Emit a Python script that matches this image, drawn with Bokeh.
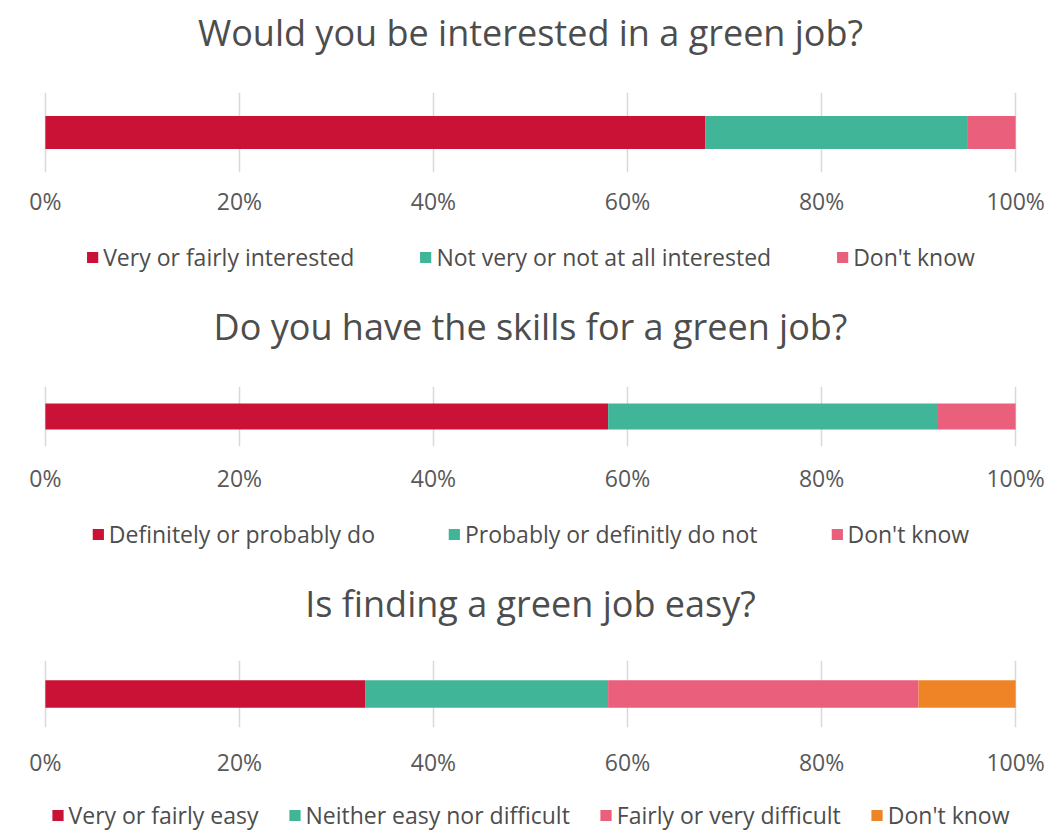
from bokeh.plotting import figure
from bokeh.models import (ColumnDataSource, Range1d, FixedTicker, Legend, LegendItem)
from bokeh.layouts import column
from bokeh.embed import file_html
from bokeh.resources import INLINE

# ---- data ----
titles = ["Would you be interested in a green job?",
          "Do you have the skills for a green job?",
          "Is finding a green job easy?"]

q1_labels = ["Very or fairly interested", "Not very or not at all interested", "Don't know"]
q1_values = [68, 27, 5]

q2_labels = ["Definitely or probably do", "Probably or definitly do not", "Don't know"]
q2_values = [58, 34, 8]

q3_labels = ["Very or fairly easy", "Neither easy nor difficult", "Fairly or very difficult", "Don't know"]
q3_values = [33, 25, 32, 10]

tick_values = [0, 20, 40, 60, 80, 100]
tick_labels = ["0%", "20%", "40%", "60%", "80%", "100%"]

palette = ["#C91236", "#41B598", "#EA5F7B", "#EF8427"]

FONT = "Open Sans"
W = 1045
XR = (-0.4, 100.4)
BL, BR = 41, 26        # frame borders (shared by all strips of the column)


def make_source(values):
    names = [f"s{i}" for i in range(len(values))]
    data = {"y": [0.5]}
    for n, v in zip(names, values):
        data[n] = [v]
    return names, ColumnDataSource(data)


def blank_strip(height, top=0):
    p = figure(width=W, height=height, x_range=Range1d(0, 1), y_range=Range1d(0, 1),
               output_backend="svg", toolbar_location=None,
               min_border_left=BL, min_border_right=BR,
               min_border_top=top, min_border_bottom=0)
    p.outline_line_color = None
    p.axis.visible = False
    p.grid.visible = False
    return p


def make_title(title, height):
    p = blank_strip(height)
    p.title.text = title
    p.title.align = "center"
    p.title.text_font = FONT
    p.title.text_font_size = "36px"
    p.title.text_font_style = "normal"
    p.title.text_color = "#4d4d4d"
    return p


def make_chart(values, frame_h, tick_standoff, bar_h):
    p = figure(width=W, height=frame_h + tick_standoff + 32, x_range=Range1d(*XR),
               y_range=Range1d(0, 1), output_backend="svg", toolbar_location=None,
               min_border_left=BL, min_border_right=BR,
               min_border_top=0, min_border_bottom=tick_standoff + 32)
    p.outline_line_color = None
    names, src = make_source(values)
    p.hbar_stack(names, y="y", height=bar_h, color=palette[:len(values)],
                 line_color=None, source=src)

    p.yaxis.visible = False
    p.ygrid.visible = False
    p.xgrid.ticker = FixedTicker(ticks=tick_values)
    p.xgrid.grid_line_color = "#d9d9d9"
    p.xgrid.grid_line_width = 1.5

    ax = p.xaxis[0]
    ax.ticker = FixedTicker(ticks=tick_values)
    ax.major_label_overrides = {v: l for v, l in zip(tick_values, tick_labels)}
    ax.axis_line_color = None
    ax.major_tick_line_color = None
    ax.minor_tick_line_color = None
    ax.major_tick_out = 0
    ax.major_tick_in = 0
    ax.major_label_standoff = tick_standoff
    ax.major_label_text_font = FONT
    ax.major_label_text_font_size = "23px"
    ax.major_label_text_color = "#595959"
    return p


def make_legend(labels, values, height, top, spacing):
    # legend strip: the same stacked bars, kept outside the visible y range
    p = figure(width=W, height=height, x_range=Range1d(*XR), y_range=Range1d(10, 11),
               output_backend="svg", toolbar_location=None,
               min_border_left=BL, min_border_right=BR,
               min_border_top=top, min_border_bottom=0)
    p.outline_line_color = None
    p.axis.visible = False
    p.grid.visible = False
    names, src = make_source(values)
    rs = p.hbar_stack(names, y="y", height=0.4, color=palette[:len(values)],
                      line_color=None, source=src)
    items = [LegendItem(label=l, renderers=[r]) for l, r in zip(labels, rs)]
    leg = Legend(items=items, orientation="horizontal", location="center",
                 label_text_font=FONT, label_text_font_size="23px",
                 label_text_color="#4d4d4d", glyph_width=14, glyph_height=14,
                 label_standoff=4, spacing=spacing, label_height=31,
                 border_line_color=None, background_fill_alpha=0,
                 padding=0, margin=0)
    p.add_layout(leg)
    return p


t1 = make_title(titles[0], 92)
c1 = make_chart(q1_values, 83, 12, 0.41)
l1 = make_legend(q1_labels, q1_values, 75, 0, 64)
t2 = make_title(titles[1], 92)
c2 = make_chart(q2_values, 63, 15, 0.43)
l2 = make_legend(q2_labels, q2_values, 75, 0, 72)
t3 = make_title(titles[2], 89)
c3 = make_chart(q3_values, 70, 18, 0.414)
l3 = make_legend(q3_labels, q3_values, 50, 20, 29)

layout = column(t1, c1, l1, t2, c2, l2, t3, c3, l3)
open("out.html", "w").write(file_html(layout, INLINE))
